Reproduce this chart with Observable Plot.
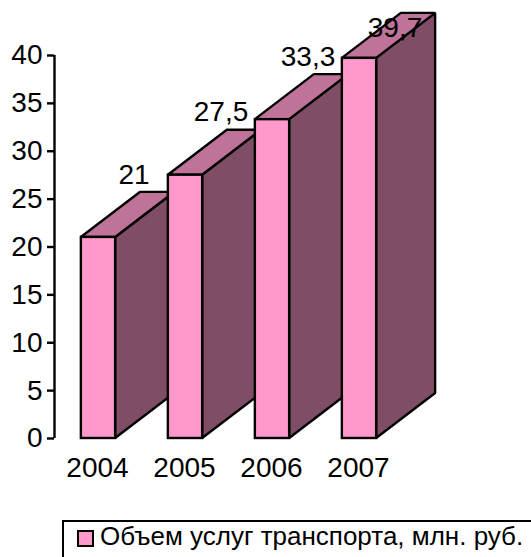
<!DOCTYPE html>
<html><head><meta charset="utf-8">
<script src="https://cdn.jsdelivr.net/npm/d3@7"></script>
<script src="https://cdn.jsdelivr.net/npm/@observablehq/plot@0.6"></script>
<style>
html,body{margin:0;padding:0;background:#fff;overflow:hidden}
#chart svg{display:block;background:#fff}
#legend{position:absolute;left:62px;top:520px;width:480px;height:50px;border:2px solid #000;box-sizing:border-box;background:#fff;font:26px "Liberation Sans",Arial,sans-serif;color:#000;white-space:nowrap}
#legend i{position:absolute;left:13px;top:8px;width:13px;height:13px;background:#FF99CC;border:2px solid #000}
#legend span{position:absolute;left:36px;top:-1px}
</style></head><body>
<div id="chart"></div>
<div id="legend"><i></i><span></span></div>
<script>
const years = [2004, 2005, 2006, 2007];
const values = [21, 27.5, 33.3, 39.7];
const labels = ["21", "27,5", "33,3", "39,7"];
const yTicks = [0, 5, 10, 15, 20, 25, 30, 35, 40];
const legendText = "Объем услуг транспорта, млн. руб.";
const colors = {front: "#FF99CC", side: "#804D66", top: "#BF7399"};

const halfBar = 0.197, depthX = 0.678, depthY = 4.7, labelShift = 0.408, labelRise = 1.85, labelCap = 42.85;
const xMin = 2004 - 44 / 87, xMax = 2004 + 433 / 87;
const H = 520;
const style = {stroke: "#000", strokeWidth: 2.4, strokeLinejoin: "miter"};

const barMarks = years.flatMap((yr, i) => {
  const v = values[i], l = yr - halfBar, r = yr + halfBar;
  return [
    Plot.areaY([{x: r, y1: 0, y2: v}, {x: r + depthX, y1: depthY, y2: v + depthY}],
      {x: "x", y1: "y1", y2: "y2", fill: colors.side, ...style}),
    Plot.areaX([{y: v, x1: l, x2: r}, {y: v + depthY, x1: l + depthX, x2: r + depthX}],
      {y: "y", x1: "x1", x2: "x2", fill: colors.top, ...style}),
    Plot.rect([{x1: l, x2: r, y1: 0, y2: v}],
      {x1: "x1", x2: "x2", y1: "y1", y2: "y2", fill: colors.front, ...style})
  ];
});

const table = years.map((yr, i) => ({yr, v: values[i], label: labels[i]}));

const plot = Plot.plot({
  width: 531, height: H,
  marginTop: 55, marginBottom: H - 438, marginLeft: 54, marginRight: 0,
  style: {fontFamily: '"Liberation Sans",Arial,sans-serif', background: "#fff", overflow: "visible"},
  x: {type: "linear", domain: [xMin, xMax]},
  y: {type: "linear", domain: [0, 40]},
  marks: [
    ...barMarks,
    Plot.ruleX([xMin], {y1: 0, y2: 40, stroke: "#000", strokeWidth: 2.4}),
    Plot.axisY({ticks: yTicks, tickSize: 7, tickPadding: 5, label: null, fontSize: 28, tickFormat: d => String(d), stroke: "#000", strokeWidth: 2.4, strokeOpacity: 1, color: "#000"}),
    Plot.axisX({ticks: years, tickSize: 0, tickPadding: 19, dx: -1, label: null, fontSize: 28, tickFormat: d => String(d), color: "#000"}),
    Plot.text(table, {
      x: d => d.yr + labelShift,
      y: d => Math.min(d.v + depthY + labelRise, labelCap),
      text: "label", fontSize: 28, fill: "#000", textAnchor: "middle", lineAnchor: "middle"
    })
  ]
});
document.getElementById("chart").append(plot);
document.querySelector("#legend span").textContent = legendText;
</script>
</body></html>
